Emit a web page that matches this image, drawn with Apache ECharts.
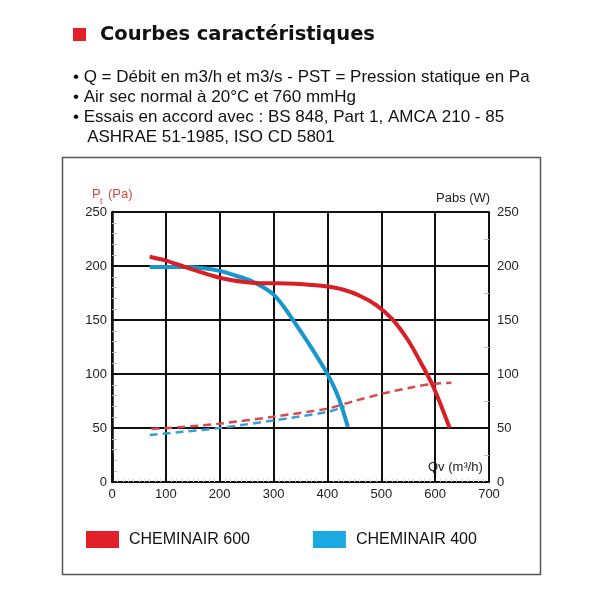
<!DOCTYPE html>
<html>
<head>
<meta charset="utf-8">
<script src="https://cdn.jsdelivr.net/npm/echarts@6/dist/echarts.min.js"></script>
<style>
html,body{margin:0;padding:0;background:#fff;}
#main{width:600px;height:600px;}
</style>
</head>
<body>
<div id="main"></div>
<script>
// ---- Data ----
const xTicks = [0, 100, 200, 300, 400, 500, 600, 700];
const yTicks = [0, 50, 100, 150, 200, 250];

// CHEMINAIR 600 : pression (Pa)
const q600 = [70, 100, 130, 160, 190, 220, 250, 280, 310, 340, 370, 400, 430, 460, 490, 520, 550, 575, 595, 610, 627];
const p600 = [208.5, 205, 200, 195, 190.5, 187, 185, 184, 184, 183.5, 182.5, 181, 178, 172.5, 164, 151, 131, 109, 90, 72, 50];
// CHEMINAIR 600 : puissance absorbée (W)
const qPabs600 = [73, 130, 200, 300, 400, 450, 500, 560, 600, 630];
const pabs600 = [49, 51, 54, 60.5, 68, 75, 81.5, 88, 91, 92];

// CHEMINAIR 400 : pression (Pa)
const q400 = [70, 130, 170, 200, 230, 255, 280, 300, 318, 336, 368, 400, 420, 438];
const p400 = [199, 199, 198, 195.5, 191, 187, 180.5, 173.5, 163, 150, 126, 100, 79, 51];
// CHEMINAIR 400 : puissance absorbée (W)
const qPabs400 = [70, 130, 200, 300, 400, 432];
const pabs400 = [43.5, 46.5, 50, 57, 65, 70];

// small vertical marker at origin
const originBar = [0, 26];

const bullets = [
  '• Q = Débit en m3/h et m3/s - PST = Pression statique en Pa',
  '• Air sec normal à 20°C et 760 mmHg',
  '• Essais en accord avec : BS 848, Part 1, AMCA 210 - 85',
  '   ASHRAE 51-1985, ISO CD 5801'
];
const names = ['CHEMINAIR 600', 'CHEMINAIR 400'];

const zip = (a, b) => a.map((v, i) => [v, b[i]]);

const RED = '#d71f26', BLUE = '#1796d0';
const RED_D = '#d84a4a', BLUE_D = '#3a9dd6';
const FONT = '"Liberation Sans", Arial, sans-serif';

const chart = echarts.init(document.getElementById('main'), null, {renderer: 'canvas'});

const graphics = [
  {type: 'rect', shape: {x: 62.5, y: 157.5, width: 478, height: 417}, style: {fill: 'none', stroke: '#555', lineWidth: 1.5}, silent: true},
  {type: 'rect', shape: {x: 73, y: 28, width: 13, height: 13}, style: {fill: '#e3202a'}},
  {type: 'text', x: 100, y: 35, style: {text: 'Courbes caractéristiques', font: 'bold 19.5px "DejaVu Sans", sans-serif', fill: '#111', verticalAlign: 'middle'}},
  {type: 'text', x: 92, y: 194, style: {text: 'P', font: '13px ' + FONT, fill: '#d9473f', verticalAlign: 'middle'}},
  {type: 'text', x: 100, y: 202, style: {text: 't', font: '9px ' + FONT, fill: '#d9473f', verticalAlign: 'middle'}},
  {type: 'text', x: 108, y: 194, style: {text: '(Pa)', font: '13px ' + FONT, fill: '#d9473f', verticalAlign: 'middle'}},
  {type: 'text', x: 436, y: 198, style: {text: 'Pabs (W)', font: '13px ' + FONT, fill: '#222', verticalAlign: 'middle'}},
  {type: 'text', x: 428, y: 467, style: {text: 'Qv (m³/h)', font: '13px ' + FONT, fill: '#222', verticalAlign: 'middle'}}
];
bullets.forEach((t, i) => {
  graphics.push({type: 'text', x: 73, y: 77 + i * 20, style: {text: t, font: '17px ' + FONT, fill: '#111', verticalAlign: 'middle'}});
});

const option = {
  animation: false,
  backgroundColor: '#fff',
  graphic: graphics,
  grid: {left: 112, right: 111, top: 212, bottom: 118, containLabel: false},
  legend: {
    left: 86, top: 531, itemWidth: 33, itemHeight: 17, itemGap: 63, padding: 0,
    icon: 'rect',
    textStyle: {fontSize: 16, color: '#111', fontFamily: FONT, padding: [0, 0, 0, 5]},
    data: [
      {name: names[0], itemStyle: {color: '#e3202a'}},
      {name: names[1], itemStyle: {color: '#1ba9e1'}}
    ],
    selectedMode: false
  },
  xAxis: {
    type: 'value', min: 0, max: 700, interval: 100,
    axisLine: {show: true, lineStyle: {color: '#111', width: 2}},
    axisTick: {show: true, inside: true, length: 0},
    minorTick: {show: true, splitNumber: 10, length: 3, lineStyle: {color: '#d0d0d0'}},
    splitLine: {show: true, lineStyle: {color: '#111', width: 2}},
    axisLabel: {fontSize: 13, color: '#222', fontFamily: FONT, margin: 6,
      customValues: xTicks}
  },
  yAxis: [
    {
      type: 'value', min: 0, max: 250, interval: 50, position: 'left',
      axisLine: {show: true, lineStyle: {color: '#111', width: 2.5}},
      axisTick: {show: true, inside: true, length: 0},
      minorTick: {show: true, splitNumber: 5, length: 5, lineStyle: {color: '#bbb'}},
      splitLine: {show: true, lineStyle: {color: '#111', width: 2}},
      axisLabel: {fontSize: 13, color: '#222', fontFamily: FONT, margin: 5, customValues: yTicks}
    },
    {
      type: 'value', min: 0, max: 250, interval: 50, position: 'right',
      axisLine: {show: true, lineStyle: {color: '#111', width: 2}},
      axisTick: {show: true, inside: true, length: 0},
      minorTick: {show: true, splitNumber: 2, length: 5, lineStyle: {color: '#bbb'}},
      splitLine: {show: false},
      axisLabel: {fontSize: 13, color: '#222', fontFamily: FONT, margin: 8, customValues: yTicks}
    }
  ],
  series: [
    {
      name: names[0], type: 'line', yAxisIndex: 1, data: zip(qPabs600, pabs600),
      smooth: 0.3, showSymbol: false, z: 3,
      lineStyle: {color: RED_D, width: 2.5, type: [8, 5]}, itemStyle: {color: RED_D}
    },
    {
      name: names[1], type: 'line', yAxisIndex: 1, data: zip(qPabs400, pabs400),
      smooth: 0.3, showSymbol: false, z: 3,
      lineStyle: {color: BLUE_D, width: 2.5, type: [8, 5]}, itemStyle: {color: BLUE_D},
      markLine: {
        silent: true, symbol: 'none', label: {show: false},
        lineStyle: {color: '#111', width: 2.5, type: 'solid'},
        data: [[{coord: [originBar[0], 0]}, {coord: [originBar[0], originBar[1]]}]]
      }
    },
    {
      name: names[1], type: 'line', yAxisIndex: 0, data: zip(q400, p400),
      smooth: 0.3, showSymbol: false, z: 4,
      lineStyle: {color: BLUE, width: 4}, itemStyle: {color: BLUE}
    },
    {
      name: names[0], type: 'line', yAxisIndex: 0, data: zip(q600, p600),
      smooth: 0.3, showSymbol: false, z: 5,
      lineStyle: {color: RED, width: 4}, itemStyle: {color: RED}
    }
  ]
};
chart.setOption(option);
</script>
</body>
</html>
